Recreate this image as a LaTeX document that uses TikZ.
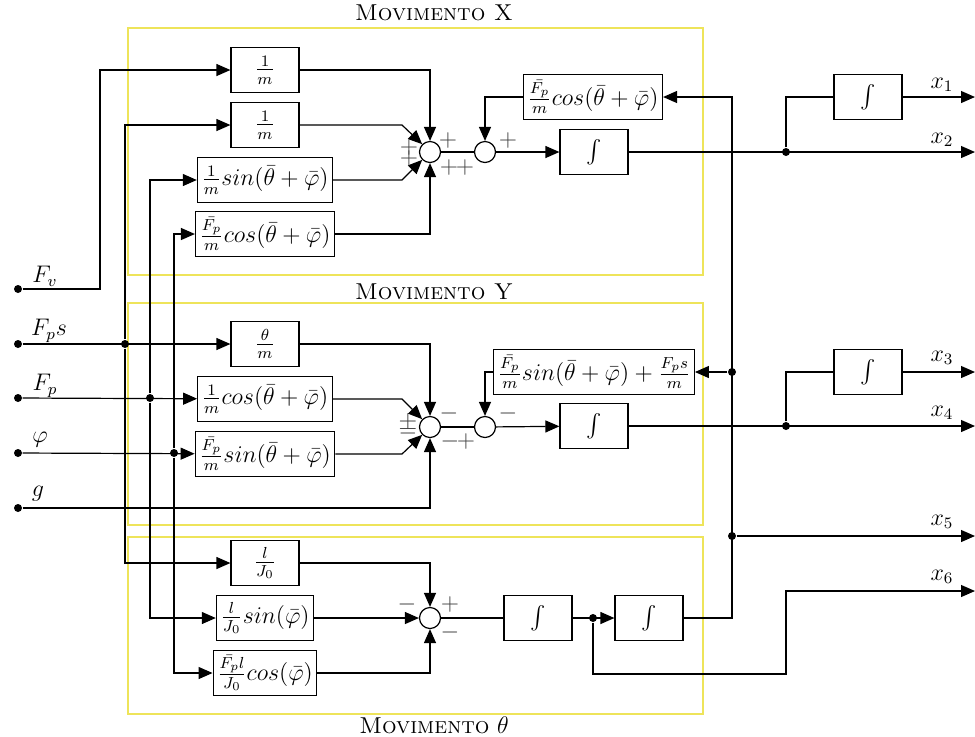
\documentclass[tikz,border=0pt]{standalone}
\usepackage{amssymb}
\usetikzlibrary{arrows.meta,positioning,calc}
\definecolor{MovYellow}{HTML}{EEE45A}

\begin{document}
\begin{tikzpicture}[x=0.5pt, y=-0.5pt, line width=0.6pt,
  font=\fontsize{11.5}{13.5}\selectfont,
  blk/.style={draw, minimum width=34pt, minimum height=22.5pt, inner sep=2pt},
  sumc/.style={draw, circle, minimum size=10.5pt, inner sep=0pt},
  dot/.style={circle, fill, inner sep=0pt, minimum size=4pt},
  sig/.style={-{Triangle[length=7pt,width=6pt]}},
  mov/.style={draw=MovYellow, line width=0.7pt},
  sgn/.style={inner sep=0pt, text=black!75}]
  \useasboundingbox (0,0) rectangle (975,736);

  \draw[mov] (128,28) rectangle (703,275);
  \draw[mov] (128,303) rectangle (703,525);
  \draw[mov] (128,537) rectangle (703,714);
  \node (tX) at (434,13) {\textsc{Movimento X}};
  \node (tY) at (434,292) {\textsc{Movimento Y}};
  \node (tT) at (434,725) {\textsc{Movimento} $\theta$};

  \node[dot] (iFv) at (18,289) {};
  \node[dot] (iFps) at (18,344) {};
  \node[dot] (iFp) at (18,398) {};
  \node[dot] (iphi) at (18,453) {};
  \node[dot] (ig) at (18,508) {};
  \node (lFv) at (45,276) {$F_v$};
  \node (lFps) at (49,331) {$F_ps$};
  \node (lFp) at (45,386) {$F_p$};
  \node (lphi) at (40,440) {$\varphi$};
  \node (lg) at (38,494) {$g$};

  \node[blk] (bx1) at (265,70) {$\frac{1}{m}$};
  \node[blk] (bx2) at (265,125) {$\frac{1}{m}$};
  \node[blk] (bx3) at (265,180) {$\frac{1}{m}sin(\bar{\theta}+\bar{\varphi})$};
  \node[blk] (bx4) at (265,234) {$\frac{\bar{F_p}}{m}cos(\bar{\theta}+\bar{\varphi})$};
  \node[sumc] (sx1) at (430,152) {};
  \node[sumc] (sx2) at (485,152) {};
  \node[blk] (fx) at (593,97) {$\frac{\bar{F_p}}{m}cos(\bar{\theta}+\bar{\varphi})$};
  \node[blk] (ix) at (594,152) {$\int$};
  \node[blk] (ix1) at (868,97) {$\int$};
  \node[dot] (j2) at (786,152) {};

  \node[blk] (by1) at (265,344) {$\frac{\theta}{m}$};
  \node[blk] (by2) at (265,399) {$\frac{1}{m}cos(\bar{\theta}+\bar{\varphi})$};
  \node[blk] (by3) at (265,454) {$\frac{\bar{F_p}}{m}sin(\bar{\theta}+\bar{\varphi})$};
  \node[sumc] (sy1) at (430,427) {};
  \node[sumc] (sy2) at (485,427) {};
  \node[blk] (fy) at (594,372) {$\frac{\bar{F_p}}{m}sin(\bar{\theta}+\bar{\varphi})+\frac{F_ps}{m}$};
  \node[blk] (iy) at (594,426) {$\int$};
  \node[blk] (iy3) at (868,372) {$\int$};
  \node[dot] (j4) at (786,426) {};

  \node[blk] (bt1) at (265,563) {$\frac{l}{J_0}$};
  \node[blk] (bt2) at (265,618) {$\frac{l}{J_0}sin(\bar{\varphi})$};
  \node[blk] (bt3) at (265,673) {$\frac{\bar{F_p}l}{J_0}cos(\bar{\varphi})$};
  \node[sumc] (st) at (430,618) {};
  \node[blk] (it1) at (538,618) {$\int$};
  \node[blk] (it2) at (649,618) {$\int$};
  \node[dot] (j6) at (593,618) {};

  \node[dot] (dFps) at (125,344) {};
  \node[dot] (dFp) at (150,398) {};
  \node[dot] (dphi) at (174,453) {};
  \node[dot] (dfy) at (732,372) {};
  \node[dot] (d5) at (732,536) {};

  \coordinate (o1) at (975,97);
  \coordinate (o2) at (975,152);
  \coordinate (o3) at (975,372);
  \coordinate (o4) at (975,426);
  \coordinate (o5) at (975,536);
  \coordinate (o6) at (975,591);
  \node (lx1) at (942,85) {$x_1$};
  \node (lx2) at (942,140) {$x_2$};
  \node (lx3) at (942,358) {$x_3$};
  \node (lx4) at (942,413) {$x_4$};
  \node (lx5) at (942,522) {$x_5$};
  \node (lx6) at (942,577) {$x_6$};

  \draw[sig] (iFv) -| (100,70) -- (bx1);
  \draw[sig] (iFps) -- (by1);
  \draw[sig] (iFp) -- (by2);
  \draw[sig] (iphi) -- (by3);
  \draw[sig] (ig) -| (sy1);
  \draw[sig] (dFps) |- (bx2);
  \draw[sig] (dFps) |- (bt1);
  \draw[sig] (dFp) |- (bx3);
  \draw[sig] (dFp) |- (bt2);
  \draw[sig] (dphi) |- (bx4);
  \draw[sig] (dphi) |- (bt3);

  \draw[sig] (bx1) -| (sx1);
  \draw[sig] (bx2) -- (402,125) -- (sx1.135);
  \draw[sig] (bx3) -- (402,180) -- (sx1.225);
  \draw[sig] (bx4) -| (sx1);
  \draw (sx1) -- (sx2);
  \draw[sig] (fx) -| (sx2);
  \draw[sig] (sx2) -- (ix);
  \draw[sig] (ix) -- (o2);
  \draw (j2) |- (ix1);
  \draw[sig] (ix1) -- (o1);

  \draw[sig] (by1) -| (sy1);
  \draw[sig] (by2) -- (402,399) -- (sy1.135);
  \draw[sig] (by3) -- (402,454) -- (sy1.225);
  \draw (sy1) -- (sy2);
  \draw[sig] (fy) -| (sy2);
  \draw[sig] (sy2) -- (iy);
  \draw[sig] (iy) -- (o4);
  \draw (j4) |- (iy3);
  \draw[sig] (iy3) -- (o3);

  \draw[sig] (bt1) -| (st);
  \draw[sig] (bt2) -- (st);
  \draw[sig] (bt3) -| (st);
  \draw (st) -- (it1);
  \draw[sig] (it1) -- (it2);
  \draw[sig] (it2) -| (732,97) -- (fx);
  \draw[sig] (dfy) -- (fy);
  \draw[sig] (d5) -- (o5);
  \draw[sig] (j6) |- (786,674) |- (o6);

  \node[sgn] at (448,140) {$+$};
  \node[sgn] at (449,167) {$+$};
  \node[sgn] at (465,167) {$+$};
  \node[sgn] at (409,147) {$+$};
  \node[sgn] at (409,158) {$+$};
  \node[sgn] at (508,140) {$+$};
  \node[sgn] at (449,413) {$-$};
  \node[sgn] at (450,441) {$-$};
  \node[sgn] at (466,441) {$+$};
  \node[sgn] at (408,423) {$\pm$};
  \node[sgn] at (408,433) {$-$};
  \node[sgn] at (508,413) {$-$};
  \node[sgn] at (407,604) {$-$};
  \node[sgn] at (450,604) {$+$};
  \node[sgn] at (450,632) {$-$};
\end{tikzpicture}
\end{document}
